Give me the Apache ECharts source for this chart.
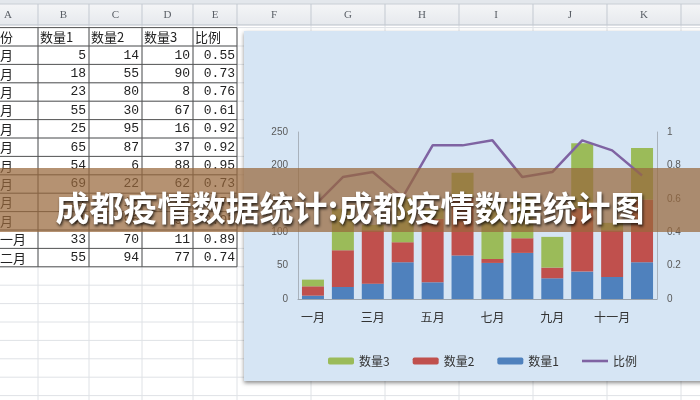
<!DOCTYPE html>
<html><head><meta charset="utf-8">
<script src="https://cdn.jsdelivr.net/npm/echarts@6/dist/echarts.min.js"></script>
<style>html,body{margin:0;padding:0;background:#fff}#c{width:700px;height:400px}</style>
</head><body><div id="c"></div>
<script>
// ---- chart data ----
const months = ['一月','二月','三月','四月','五月','六月','七月','八月','九月','十月','十一月','十二月'];
const qty1 = [5, 18, 23, 55, 25, 65, 54, 69, 31, 41, 33, 55];
const qty2 = [14, 55, 80, 30, 95, 87, 6, 22, 16, 95, 70, 94];
const qty3 = [10, 62, 8, 67, 16, 37, 88, 62, 46, 97, 11, 77];
const ratio = [0.55, 0.73, 0.76, 0.61, 0.92, 0.92, 0.95, 0.73, 0.76, 0.95, 0.89, 0.74];
// ---- spreadsheet cell text (as printed in the sheet) ----
const sheetQty1 = [5, 18, 23, 55, 25, 65, 54, 69, 31, 41, 33, 55];
const sheetQty2 = [14, 55, 80, 30, 95, 87, 6, 22, 16, 95, 70, 94];
const sheetQty3 = [10, 90, 8, 67, 16, 37, 88, 62, 46, 97, 11, 77];
const sheetRatio = ['0.55','0.73','0.76','0.61','0.92','0.92','0.95','0.73','0.76','0.95','0.89','0.74'];
const sheetHeaders = ['月份','数量1','数量2','数量3','比例'];
const colLetters = ['A','B','C','D','E','F','G','H','I','J','K'];
const legendNames = ['数量3','数量2','数量1','比例'];
const titleText = '成都疫情数据统计:成都疫情数据统计图';

// ---- layout (positions only) ----
const colEdges = [38, 89, 142, 193, 237, 311, 385, 459, 533, 607, 681];
const colCenters = [8, 63.5, 115.5, 167.5, 215, 274, 348, 422, 496, 570, 644];
const rowH = 18.4, row0 = 27.6;

const g = [];
g.push({type:'rect', z:-100, shape:{x:0,y:0,width:700,height:400}, style:{fill:'#ffffff'}});
// light grid lines
for (let k = 0; k < 22; k++) {
  const y = row0 + k * rowH;
  g.push({type:'line', z:-90, shape:{x1:0,y1:y,x2:700,y2:y}, style:{stroke:'#dfe2e6', lineWidth:1}});
}
colEdges.forEach(x => g.push({type:'line', z:-90, shape:{x1:x,y1:25,x2:x,y2:400}, style:{stroke:'#dfe2e6', lineWidth:1}}));
// column header strip
g.push({type:'rect', z:-80, shape:{x:0,y:0,width:700,height:4}, style:{fill:'#e3e7ec'}});
g.push({type:'rect', z:-80, shape:{x:0,y:4,width:700,height:21},
  style:{fill:new echarts.graphic.LinearGradient(0,0,0,1,[{offset:0,color:'#f4f5f7'},{offset:1,color:'#e6e9ed'}])}});
g.push({type:'line', z:-79, shape:{x1:0,y1:25,x2:700,y2:25}, style:{stroke:'#b9c0c9', lineWidth:1}});
g.push({type:'line', z:-79, shape:{x1:0,y1:4,x2:700,y2:4}, style:{stroke:'#c9ced5', lineWidth:1}});
colEdges.forEach(x => g.push({type:'line', z:-79, shape:{x1:x,y1:4,x2:x,y2:25}, style:{stroke:'#c3c9d1', lineWidth:1}}));
colLetters.forEach((L, i) => g.push({type:'text', z:-78, x:colCenters[i], y:15,
  style:{text:L, fill:'#5a5f66', font:'11px "Liberation Serif"', align:'center', verticalAlign:'middle'}}));
// table borders
const tBottom = row0 + 13 * rowH;
for (let k = 0; k <= 13; k++) {
  const y = row0 + k * rowH;
  g.push({type:'line', z:-70, shape:{x1:0,y1:y,x2:237,y2:y}, style:{stroke:'#555', lineWidth:1}});
}
colEdges.slice(0,5).forEach(x => g.push({type:'line', z:-70, shape:{x1:x,y1:row0,x2:x,y2:tBottom}, style:{stroke:'#555', lineWidth:1}}));
// header texts
const hdrY = row0 + rowH / 2;
g.push({type:'text', z:-60, x:-13, y:hdrY, style:{text:sheetHeaders[0], fill:'#222', font:'13px "Noto Sans CJK SC"', verticalAlign:'middle'}});
[40, 91, 144, 195].forEach((x, i) => g.push({type:'text', z:-60, x:x, y:hdrY,
  style:{text:sheetHeaders[i+1], fill:'#222', font:'13px "Noto Sans CJK SC"', verticalAlign:'middle'}}));
// rows
months.forEach((m, i) => {
  const y = row0 + (i + 1.5) * rowH;
  g.push({type:'text', z:-60, x:-13, y:y, style:{text:m, fill:'#222', font:'13px "Noto Sans CJK SC"', verticalAlign:'middle'}});
  const vals = [sheetQty1[i], sheetQty2[i], sheetQty3[i], sheetRatio[i]];
  [86, 139, 190, 235].forEach((x, j) => g.push({type:'text', z:-60, x:x, y:y,
    style:{text:String(vals[j]), fill:'#222', font:'13px "Liberation Mono"', align:'right', verticalAlign:'middle'}}));
});
// chart object background
g.push({type:'rect', z:-50, shape:{x:244,y:31,width:470,height:350},
  style:{fill:'#d6e5f4', shadowBlur:4, shadowColor:'rgba(0,0,0,0.45)', shadowOffsetY:2, shadowOffsetX:0}});
// title banner
g.push({type:'rect', z:90, shape:{x:0,y:168,width:700,height:64}, style:{fill:'rgba(152,104,60,0.72)'}});

const chart = echarts.init(document.getElementById('c'), null, {renderer:'canvas'});
chart.setOption({
  animation:false,
  backgroundColor:'transparent',
  graphic: g,
  title:{
    text:titleText, left:'center', top:186, z:100,
    textStyle:{color:'#ffffff', fontSize:34, fontWeight:'bold', fontFamily:'"Noto Sans CJK SC"',
      textShadowColor:'rgba(0,0,0,0.75)', textShadowBlur:3, textShadowOffsetX:1, textShadowOffsetY:2}
  },
  legend:{
    data:[
      {name:legendNames[0]}, {name:legendNames[1]}, {name:legendNames[2]},
      {name:legendNames[3], icon:'path://M0,0 L26,0 L26,2.6 L0,2.6 Z'}
    ],
    left:323, top:350, itemWidth:26, itemHeight:7, itemGap:23,
    textStyle:{color:'#333', fontSize:12, fontFamily:'"Noto Sans CJK SC"'}
  },
  grid:{left:298, right:43, top:132, bottom:101},
  xAxis:{
    type:'category', data:months,
    axisLine:{lineStyle:{color:'#9aa3ad'}}, axisTick:{show:false},
    axisLabel:{interval:1, color:'#333', fontSize:12, margin:12, fontFamily:'"Noto Sans CJK SC"'}
  },
  yAxis:[
    {type:'value', min:0, max:250, interval:50, splitLine:{show:false},
     axisLine:{show:true, lineStyle:{color:'#a9b2bc'}}, axisTick:{show:false},
     axisLabel:{color:'#5a5a5a', fontSize:10, margin:10}},
    {type:'value', min:0, max:1, interval:0.2, splitLine:{show:false},
     axisLine:{show:true, lineStyle:{color:'#a9b2bc'}}, axisTick:{show:false},
     axisLabel:{color:'#5a5a5a', fontSize:10, margin:10}}
  ],
  series:[
    {name:'数量1', type:'bar', stack:'q', data:qty1, barWidth:22, itemStyle:{color:'#4f81bd'}},
    {name:'数量2', type:'bar', stack:'q', data:qty2, barWidth:22, itemStyle:{color:'#c0504d'}},
    {name:'数量3', type:'bar', stack:'q', data:qty3, barWidth:22, itemStyle:{color:'#9bbb59'}},
    {name:'比例', type:'line', yAxisIndex:1, data:ratio, symbol:'none', z:5,
     lineStyle:{color:'#7f63a2', width:2.5}, itemStyle:{color:'#7f63a2'}}
  ]
});
</script></body></html>
